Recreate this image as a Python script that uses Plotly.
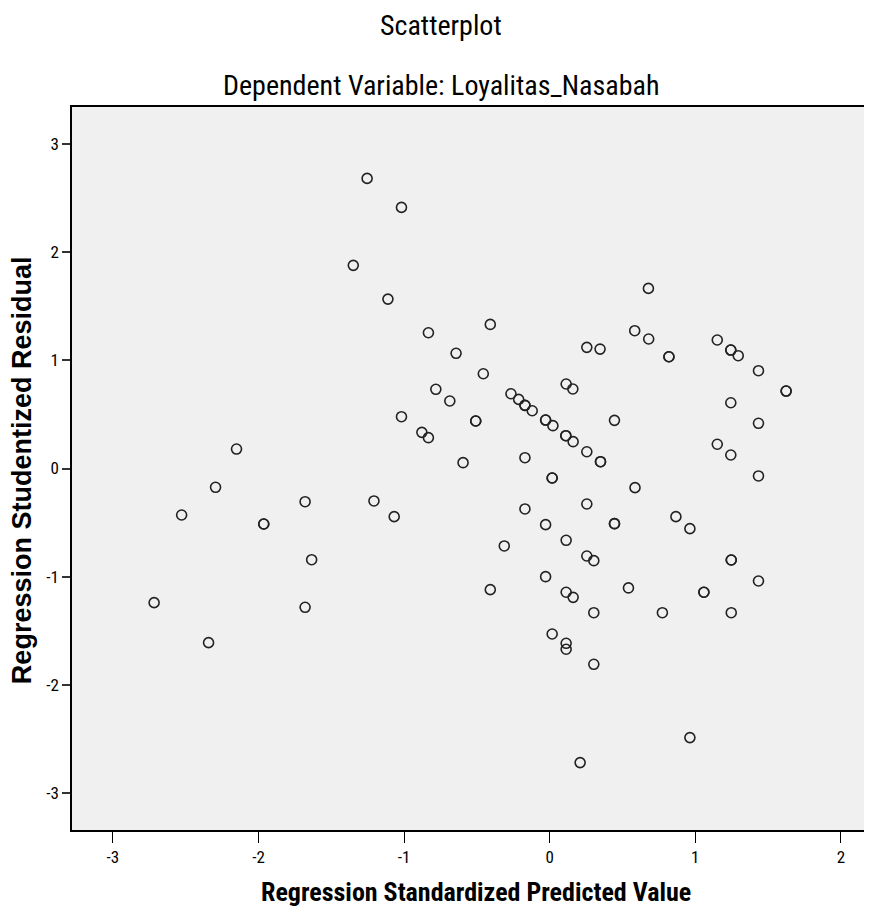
import plotly.graph_objects as go

# Regression Standardized Predicted Value (x) and Studentized Residual (y)
pred = [
    -1.254, -1.018, -1.349, -1.111, -0.833, -0.643, -0.782, -0.686, -1.018, -0.878,
    -0.833, -0.508, -0.508, -0.595, -2.151, -2.295, -2.528, -1.964, -1.964, -1.680,
    -1.207, -1.068, -1.635, -2.717, -1.680, -2.343,
    0.678, -0.408, -0.456, 0.584, 0.680, 0.819, 0.819, 0.255, 0.346, 0.113,
    0.159, -0.266, -0.213, -0.170, -0.170, -0.120, -0.028, -0.028, 0.022, 0.111,
    0.111, 0.161, 0.255, 0.349, 0.349, 0.445, -0.170, 0.017, 0.017, -0.170,
    0.255, 0.586, 1.151, 1.244, 1.244, 1.295, 1.434, 1.624, 1.624, 1.244,
    1.434, 1.151, 1.244, 1.434, 0.867,
    -0.028, 0.445, 0.445, 0.963, -0.312, 0.113, 0.255, 0.303, 1.247, 1.247,
    -0.028, -0.408, 0.113, 0.161, 0.541, 1.059, 1.059, 1.434, 0.303, 0.774,
    1.247, 0.017, 0.113, 0.113, 0.303, 0.963, 0.209,
]
resid = [
    2.682, 2.414, 1.878, 1.566, 1.255, 1.065, 0.732, 0.624, 0.479, 0.334,
    0.285, 0.439, 0.439, 0.054, 0.180, -0.174, -0.430, -0.513, -0.513, -0.307,
    -0.300, -0.445, -0.843, -1.240, -1.283, -1.610,
    1.665, 1.332, 0.876, 1.274, 1.197, 1.033, 1.033, 1.120, 1.104, 0.781,
    0.735, 0.691, 0.639, 0.584, 0.584, 0.534, 0.448, 0.448, 0.396, 0.303,
    0.303, 0.248, 0.155, 0.063, 0.063, 0.445, 0.100, -0.088, -0.088, -0.374,
    -0.328, -0.177, 1.188, 1.095, 1.095, 1.043, 0.904, 0.716, 0.716, 0.608,
    0.418, 0.224, 0.125, -0.069, -0.445,
    -0.519, -0.510, -0.510, -0.556, -0.716, -0.664, -0.809, -0.852, -0.846, -0.846,
    -1.000, -1.120, -1.144, -1.191, -1.104, -1.144, -1.144, -1.040, -1.333, -1.333,
    -1.333, -1.530, -1.616, -1.671, -1.810, -2.488, -2.719,
]

x_ticks = [-3, -2, -1, 0, 1, 2]
y_ticks = [-3, -2, -1, 0, 1, 2, 3]

COND = "Roboto Condensed, Liberation Sans, Arial, sans-serif"
WIDE = "Liberation Sans, Arial, sans-serif"

# the page body has an 8px default margin; compensate so the plot lands where the reference has it
W, H = 864, 909
ML, MT, MB = 64, 99, 87
plot_h = H - MT - MB
plot_w = W - ML


def py(y_page):
    return 1 + ((MT + 8) - y_page) / plot_h


def px(x_page):
    return (x_page - 8 - ML) / plot_w


fig = go.Figure()
fig.add_trace(go.Scatter(
    x=pred, y=resid, mode="markers",
    marker=dict(symbol="circle-open", size=10, color="#222222",
                line=dict(width=1.6, color="#222222")),
    hoverinfo="x+y", showlegend=False,
))

anns = [
    dict(text="Scatterplot", x=px(442), y=py(26),
         font=dict(size=28, family=COND)),
    dict(text="Dependent Variable: Loyalitas_Nasabah", x=px(442), y=py(85),
         font=dict(size=28, family=COND)),
    dict(text="<b>Regression Standardized Predicted Value</b>", x=px(477), y=py(892),
         font=dict(size=26, family=COND)),
    dict(text="<b>Regression Studentized Residual</b>", x=px(22), y=py(470),
         textangle=-90, font=dict(size=27, family=WIDE)),
]
for a in anns:
    a.update(xref="paper", yref="paper", showarrow=False,
             xanchor="center", yanchor="middle")

fig.update_layout(
    width=W, height=H,
    margin=dict(l=ML, r=0, t=MT, b=MB),
    paper_bgcolor="white",
    plot_bgcolor="#f0f0f0",
    font=dict(family=COND, color="black", size=16),
    annotations=anns,
)

fig.update_xaxes(
    range=[-3.281, 2.20], tickvals=x_ticks, ticktext=[str(v) for v in x_ticks],
    showgrid=False, zeroline=False,
    showline=True, linecolor="black", linewidth=1.6, mirror=True,
    ticks="outside", ticklen=11, tickwidth=1.3, tickcolor="black",
    tickfont=dict(size=17, family=COND),
)
fig.update_yaxes(
    range=[-3.342, 3.342], tickvals=y_ticks, ticktext=[str(v) for v in y_ticks],
    showgrid=False, zeroline=False,
    showline=True, linecolor="black", linewidth=1.6, mirror=True,
    ticks="outside", ticklen=8, tickwidth=2, tickcolor="#333333",
    tickfont=dict(size=17, family=COND),
)

fig.write_html("out.html")
